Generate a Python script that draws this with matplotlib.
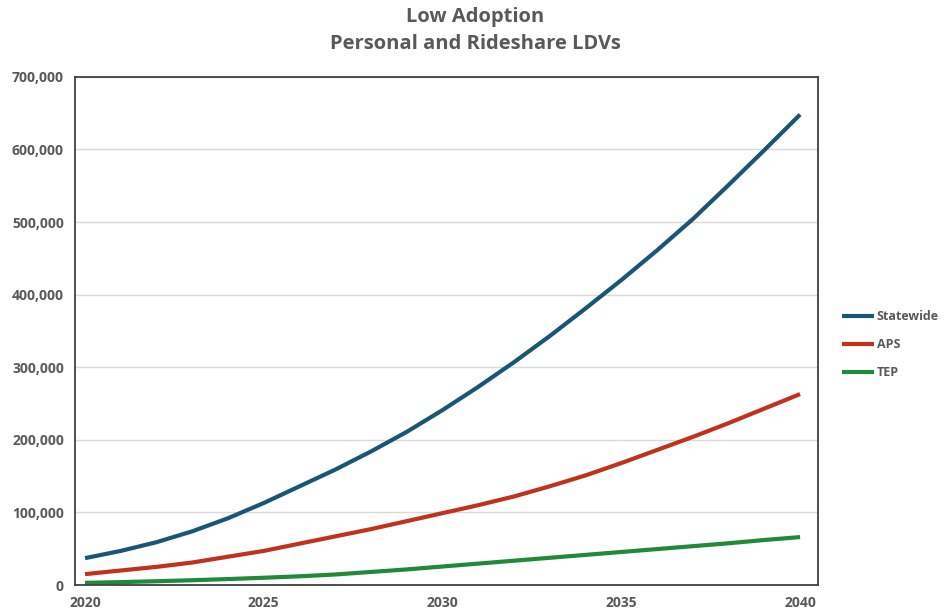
import matplotlib
matplotlib.use("Agg")
import matplotlib.pyplot as plt
from matplotlib.ticker import FuncFormatter, MultipleLocator

years = list(range(2020, 2041))
statewide = [37000, 47000, 59000, 74000, 92000, 113000, 136000, 159000, 184000, 211000,
             241000, 273000, 307000, 343000, 381000, 420000, 461000, 504000, 551000, 599000, 648000]
aps = [15000, 20000, 25000, 31000, 39000, 47000, 57000, 67000, 77000, 88000,
       99000, 110000, 122000, 136000, 151000, 168000, 186000, 204000, 223000, 243000, 263000]
tep = [3000, 4000, 5200, 6600, 8200, 10000, 12000, 14500, 18000, 21500,
       25500, 29500, 33500, 37500, 41500, 45500, 49500, 53500, 57500, 62000, 66000]
series_names = ["Statewide", "APS", "TEP"]
colors = ["#1a5673", "#c0321c", "#1f8a3c"]
title_lines = ["Low Adoption", "Personal and Rideshare LDVs"]

plt.rcParams['font.family'] = ['Open Sans', 'DejaVu Sans']
fig = plt.figure(figsize=(9.5, 6.16), dpi=100)
ax = fig.add_axes([0.079, 0.0503, 0.782, 0.825])

for vals, name, c in zip([statewide, aps, tep], series_names, colors):
    ax.plot(years, vals, color=c, lw=3, label=name, solid_capstyle='butt',
            solid_joinstyle='round')

ax.set_xlim(2019.72, 2040.5)
ax.set_ylim(0, 700000)
ax.xaxis.set_major_locator(MultipleLocator(5))
ax.yaxis.set_major_locator(MultipleLocator(100000))
ax.yaxis.set_major_formatter(FuncFormatter(lambda v, p: f"{int(v):,}"))
ax.grid(axis='y', color='#d9d9d9', lw=1)
ax.set_axisbelow(True)
for s in ax.spines.values():
    s.set_color('#404040')
    s.set_linewidth(1.3)
ax.tick_params(length=0, labelsize=10, labelcolor='#595959', pad=8)
for lab in ax.get_xticklabels() + ax.get_yticklabels():
    lab.set_fontweight('bold')

fig.text(0.5, 0.973, title_lines[0], ha='center', va='center', fontsize=14.5,
         fontweight='bold', color='#595959')
fig.text(0.5, 0.928, title_lines[1], ha='center', va='center', fontsize=14.5,
         fontweight='bold', color='#595959')

leg = fig.legend(loc='upper left', bbox_to_anchor=(0.874, 0.515), frameon=False,
                 handlelength=2.6, handletextpad=0.2, labelspacing=1.2,
                 prop={'size': 9, 'weight': 'bold'})
for t in leg.get_texts():
    t.set_color('#595959')

fig.savefig("out.png", dpi=100, facecolor='white')
